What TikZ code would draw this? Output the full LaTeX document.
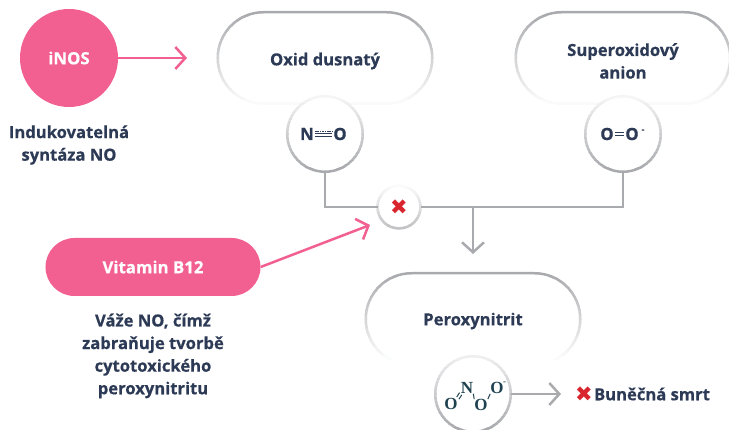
\documentclass[tikz,border=0pt]{standalone}
\usepackage{fontspec}
\setmainfont[BoldFeatures={FakeBold=0.5}]{Open Sans}
\newfontfamily\symbolfont{DejaVu Sans}
\newfontfamily\chemfont{Liberation Serif}
\usetikzlibrary{arrows.meta}
\usetikzlibrary{calc}
\definecolor{ringgray}{HTML}{A9AAAE}
\definecolor{rosepink}{HTML}{F26091}
\definecolor{inkblue}{HTML}{2C3A55}
\definecolor{chemteal}{HTML}{1F4250}
\definecolor{crossred}{HTML}{D9252E}
\tikzstyle{label text} = [text=inkblue, font=\bfseries\fontsize{16.6}{22.6}\selectfont, align=center]
\tikzstyle{pill} = [rectangle, fill=white, outer sep=0pt, minimum width=214.5pt, minimum height=91.5pt]
\tikzstyle{ring} = [circle, fill=white, outer sep=0pt, minimum size=75.5pt, inner sep=0pt]
\tikzstyle{pinkdot} = [circle, fill=rosepink, text=white, minimum size=98pt, inner sep=0pt,
    font=\bfseries\fontsize{16.8}{20}\selectfont]
\tikzstyle{pinkpill} = [rectangle, fill=rosepink, text=white, rounded corners=29pt,
    minimum width=215pt, minimum height=58pt, font=\bfseries\fontsize{16.8}{20}\selectfont]
\tikzstyle{edge} = [draw=ringgray, line width=2.5pt]
\tikzstyle{line} = [draw=ringgray, line width=2.5pt, -{Straight Barb[length=10pt,width=22pt]}]
\tikzstyle{pinkline} = [draw=rosepink, line width=2.5pt, -{Straight Barb[length=10pt,width=22pt]}]
\tikzstyle{cross} = [text=crossred, inner sep=0pt, font=\symbolfont\fontsize{21}{21}\selectfont]
\tikzstyle{atom} = [text=inkblue, inner sep=0pt, font=\bfseries\fontsize{16.8}{20}\selectfont]
\tikzstyle{chem} = [text=chemteal, inner sep=0pt, font=\chemfont\bfseries\fontsize{17}{17}\selectfont]
\tikzstyle{bond} = [draw=inkblue, line width=1pt]
\tikzstyle{chembond} = [draw=chemteal, line width=1pt]
% outline of a node in horizontal bands: node, top mix, bottom mix, corner radius
\newcommand{\fadeborder}[4]{
  \foreach \band in {0,...,19} {
    \pgfmathsetmacro\bandmix{#2+(#3-#2)*\band/19}
    \pgfmathsetmacro\bandtop{\band/20}
    \pgfmathsetmacro\bandlow{(\band+1)/20}
    \pgfmathsetmacro\bandup{\band==0 ? 3 : 0}
    \pgfmathsetmacro\banddown{\band==19 ? 3 : 0.3}
    \begin{scope}
      \clip ($(#1.west |- #1.north)!\bandtop!(#1.west |- #1.south)+(-3pt,\bandup pt)$) rectangle
            ($(#1.east |- #1.north)!\bandlow!(#1.east |- #1.south)+(3pt,-\banddown pt)$);
      \draw [draw=ringgray!\bandmix!white, line width=2.5pt, rounded corners=#4]
            (#1.west |- #1.north) rectangle (#1.east |- #1.south);
    \end{scope}
  }
}

\begin{document}
\begin{tikzpicture}[node distance = 100pt, auto]
  \useasboundingbox (-69pt,58pt) rectangle (660pt,-372pt);
  % Place nodes
  \node [pinkdot] (inos) {iNOS};
  \node [label text, below of=inos, node distance=87pt] (inoslabel) {Indukovatelná\\syntáza NO};
  \coordinate [right of=inos, node distance=118pt] (inosend);
  \path [pinkline] (inos) -- (inosend);

  % Top row
  \node [pill, right of=inos, node distance=256pt] (oxid) {};
  \fadeborder{oxid}{100}{6}{45.7pt}
  \node [label text, below of=oxid, node distance=3pt] (oxidlabel) {Oxid dusnatý};
  \node [pill, right of=oxid, node distance=298pt] (superox) {};
  \fadeborder{superox}{100}{6}{45.7pt}
  \node [label text, below of=superox, node distance=3pt] (superoxlabel) {Superoxidový\\anion};
  \node [ring, below of=oxid, node distance=76pt] (nocirc) {};
  \fadeborder{nocirc}{12}{100}{37.75pt}
  \node [ring, below of=superox, node distance=76pt] (oocirc) {};
  \fadeborder{oocirc}{12}{100}{37.75pt}

  % N and O
  \node [atom, left of=nocirc, node distance=18pt] (nleft) {N};
  \node [atom, right of=nocirc, node distance=15pt] (oright) {O};
  \path [bond, dash pattern=on 1.6pt off 0.8pt] ([yshift=2.8pt,xshift=1pt]nleft.east) -- ([yshift=2.8pt,xshift=-1pt]oright.west);
  \path [bond] ([yshift=0pt,xshift=1pt]nleft.east) -- ([yshift=0pt,xshift=-1pt]oright.west);
  \path [bond] ([yshift=-2.8pt,xshift=1pt]nleft.east) -- ([yshift=-2.8pt,xshift=-1pt]oright.west);

  % O and O
  \node [atom, left of=oocirc, node distance=16pt] (oleft) {O};
  \node [atom, right of=oocirc, node distance=9pt] (oother) {O};
  \node [atom, right of=oother, node distance=11pt, yshift=3pt, font=\bfseries\fontsize{9}{9}\selectfont] (oominus) {-};
  \path [bond] ([yshift=1.8pt,xshift=1pt]oleft.east) -- ([yshift=1.8pt,xshift=-1pt]oother.west);
  \path [bond] ([yshift=-1.8pt,xshift=1pt]oleft.east) -- ([yshift=-1.8pt,xshift=-1pt]oother.west);

  % Join
  \coordinate [below of=nocirc, node distance=73pt] (nojoin);
  \coordinate [below of=oocirc, node distance=73pt] (oojoin);
  \node [ring, minimum size=43pt, right of=nojoin, node distance=74pt] (blockcirc) {};
  \fadeborder{blockcirc}{5}{70}{21.5pt}
  \node [cross] at (blockcirc) (blockcross) {\char"2716};
  \path [edge] (nocirc) -- (nojoin) -- (blockcirc);
  \path [edge] (oocirc) -- (oojoin) -- (blockcirc);
  \coordinate [right of=blockcirc, node distance=74pt] (arrowtop);
  \coordinate [below of=arrowtop, node distance=47pt] (arrowend);
  \path [line] (arrowtop) -- (arrowend);

  % Vitamin
  \node [pinkpill, below of=inos, node distance=209pt, xshift=84pt] (vitamin) {Vitamin B12};
  \node [label text, below of=vitamin, node distance=89pt] (vitaminlabel) {Váže NO, čímž\\zabraňuje tvorbě\\cytotoxického\\peroxynitritu};
  \coordinate [below of=blockcirc, node distance=18pt, xshift=-29pt] (vitaminend);
  \path [pinkline] (vitamin.east) -- (vitaminend);

  % Peroxynitrit
  \node [pill, below of=arrowtop, node distance=112pt] (perox) {};
  \fadeborder{perox}{100}{0}{45.7pt}
  \node [label text, below of=perox, node distance=2pt] (peroxlabel) {Peroxynitrit};
  \node [ring, below of=perox, node distance=75pt] (onoocirc) {};
  \fadeborder{onoocirc}{20}{100}{37.75pt}

  % Molecule
  \node [chem, left of=onoocirc, node distance=22pt, yshift=-10pt] (ochem) {O};
  \node [chem, left of=onoocirc, node distance=6pt, yshift=6pt] (nchem) {N};
  \node [chem, right of=onoocirc, node distance=8pt, yshift=-11pt] (obridge) {O};
  \node [chem, right of=onoocirc, node distance=24pt, yshift=6pt] (oend) {O};
  \node [chem, right of=oend, node distance=7.5pt, yshift=5pt, font=\chemfont\bfseries\fontsize{9}{9}\selectfont] (oendminus) {-};
  \path [chembond] ([xshift=-1.1pt,yshift=1.1pt]ochem.north east) -- ([xshift=-1.1pt,yshift=1.1pt]nchem.south west);
  \path [chembond] ([xshift=1.1pt,yshift=-1.1pt]ochem.north east) -- ([xshift=1.1pt,yshift=-1.1pt]nchem.south west);
  \path [chembond] (nchem.south east) -- (obridge.north west);
  \path [chembond] (obridge.north east) -- (oend.south west);

  % Cell death
  \coordinate [right of=onoocirc, node distance=88pt] (deathend);
  \path [line] (onoocirc) -- (deathend);
  \node [cross, right of=onoocirc, node distance=111pt] (deathcross) {\char"2716};
  \node [label text, right of=deathcross, node distance=68pt] (deathlabel) {Buněčná smrt};
\end{tikzpicture}
\end{document}
